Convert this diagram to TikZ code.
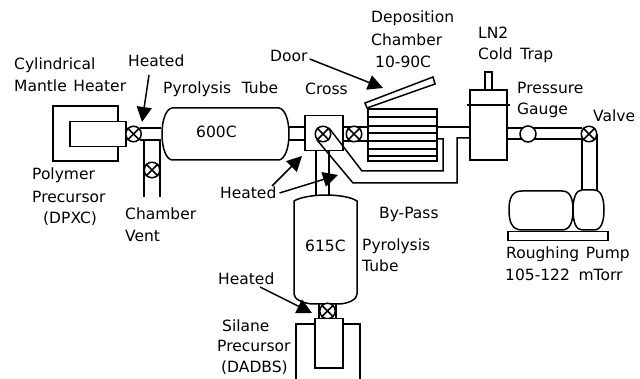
\documentclass[tikz,border=0pt]{standalone}
\usepackage{fontspec}
\setmainfont[WordSpace=1.35]{DejaVu Sans}
\usetikzlibrary{arrows.meta}
\tikzset{
  part/.style={line width=1.5pt,fill=white},
  pipe/.style={line width=1.5pt},
  lbl/.style={anchor=west,inner sep=0pt,font=\fontsize{15.5}{18}\selectfont},
  pointer/.style={line width=1.5pt,-{Triangle[length=15pt,width=15pt]}},
  valvering/.style={circle,draw,line width=1.5pt,fill=white,minimum size=15.5pt,inner sep=0pt},
}
\newcommand{\valve}[3]{%
  \node[valvering] (#1) at (#2,#3) {};
  \draw[line width=1.5pt] (#1.45) -- (#1.225) (#1.135) -- (#1.315);
}
\begin{document}
\begin{tikzpicture}[x=1pt,y=-1pt]
\useasboundingbox (0,0) rectangle (640,379);
% precursor heater
\draw[part] (118,121) -- (118,106) -- (53,106) -- (53,161) -- (118,161) -- (118,146);
\node[draw,part,minimum width=56pt,minimum height=25pt,inner sep=0pt,anchor=north west] (inner) at (69,121) {};
% pipes left
\coordinate (pa) at (140,128); \coordinate (pb) at (161,128);
\coordinate (pc) at (140,140); \coordinate (pd) at (161,140);
\draw[pipe] (pa) -- (pb) (pc) -- (pd);
\coordinate (va) at (144,141); \coordinate (vb) at (144,197);
\coordinate (vc) at (160,141); \coordinate (vd) at (160,197);
\draw[pipe] (va) -- (vb) (vc) -- (vd);
\valve{v1}{133.5}{134}
\valve{v2}{152}{170}
% horizontal pyrolysis tube
\draw[part] (172,108) -- (279,108) .. controls (285,109) and (289,120) .. (289,134)
  .. controls (289,148) and (285,159) .. (279,160) -- (172,160)
  .. controls (166,159) and (162,148) .. (162,134)
  .. controls (162,120) and (166,109) .. (172,108) -- cycle;
\draw[pipe] (289,127) -- (304,127) (289,140) -- (304,140);
% cross
\node[draw,part,minimum width=38pt,minimum height=35pt,inner sep=0pt,anchor=north west,fill=none] (cross) at (304,115) {};
\draw[pipe] (316,150) -- (316,195) (329,150) -- (329,195);
% bypass lines
\draw[pipe] (437,139) -- (443,139) -- (443,171) -- (362,171) -- (329,128);
\draw[pipe] (470,138) -- (457,138) -- (457,183) -- (353,183) -- (317,140);
\valve{v3}{323}{134}
% chamber pipes and valve
\draw[pipe] (342,127) -- (368,127) (342,141) -- (368,141);
\valve{v4}{354}{134}
% chamber
\draw[part] (368,109) rectangle (437,161);
\foreach \yy in {117,126,133,141,149,156}
  \draw[pipe] (368,\yy) -- (437,\yy);
\draw[part] (365,103) -- (433,77) -- (435,84) -- (367,108) -- cycle;
\draw[pipe] (437,127) -- (470,127);
% cold trap
\draw[part] (485,90) -- (485,72) -- (492,72) -- (492,90);
\draw[part] (470,105) -- (470,90) -- (507,90) -- (507,105);
\draw[part] (470,105) rectangle (507,160);
\draw[line width=2.6pt] (467,105) -- (510,105);
% right pipes
\draw[pipe] (507,128) -- (582,128) (507,139) -- (582,139);
\node[circle,draw,line width=1.5pt,fill=white,minimum size=16pt,inner sep=0pt] (gauge) at (528,134) {};
\draw[pipe] (582,139) -- (582,191) (597,134) -- (597,191);
\valve{v5}{589}{134}
% pump
\draw[part] (522,191) -- (562,191) .. controls (570,191) and (573,198) .. (573,210)
  .. controls (573,222) and (570,230) .. (562,230) -- (522,230)
  .. controls (512,230) and (509,222) .. (509,210)
  .. controls (509,198) and (512,191) .. (522,191) -- cycle;
\draw[part] (582,190) -- (594,190) .. controls (601,190) and (604,198) .. (604,210)
  .. controls (604,222) and (601,230) .. (594,230) -- (582,230)
  .. controls (576,230) and (573,222) .. (573,210)
  .. controls (573,198) and (576,190) .. (582,190) -- cycle;
\node[draw,part,minimum width=100pt,minimum height=9pt,inner sep=0pt,anchor=north west] (base) at (507,231) {};
% vertical pyrolysis tube
\draw[part] (294,201) .. controls (300,197) and (315,195) .. (326,195)
  .. controls (338,195) and (351,197) .. (357,201) -- (357,294)
  .. controls (357,299) and (350,303) .. (340,304) -- (312,304)
  .. controls (302,303) and (294,299) .. (294,294) -- cycle;
% silane precursor
\draw[pipe] (319,304) -- (319,318) (336,304) -- (336,318);
\valve{v6}{327.5}{311}
\draw[part] (296,379) -- (296,324) -- (314,324) (342,324) -- (360,324) -- (360,379);
\node[draw,part,minimum width=28pt,minimum height=49pt,inner sep=0pt,anchor=north west] (silane) at (314,318) {};
% labels
\node[lbl] (t1) at (14,65) {Cylindrical};
\node[lbl] (t2) at (14,86) {Mantle Heater};
\node[lbl] (t3) at (128,61) {Heated};
\node[lbl] (t4) at (163,89) {Pyrolysis\hspace{4pt} Tube};
\node[lbl] (t5) at (305,89) {Cross};
\node[lbl] (t6) at (270,56) {Door};
\node[lbl] (t7) at (371,18) {Deposition};
\node[lbl] (t8) at (371,40) {Chamber};
\node[lbl] (t9) at (375,62) {10-90C};
\node[lbl] (t10) at (478,33) {LN2};
\node[lbl] (t11) at (478,55) {Cold\hspace{1pt} Trap};
\node[lbl] (t12) at (517,88) {Pressure};
\node[lbl] (t13) at (517,110) {Gauge};
\node[lbl] (t14) at (593,116) {Valve};
\node[lbl] (t15) at (196,132) {600C};
\node[lbl] (t16) at (32,175) {Polymer};
\node[lbl] (t17) at (32,197) {Precursor};
\node[lbl] (t18) at (43,219) {(DPXC)};
\node[lbl] (t19) at (125,214) {Chamber};
\node[lbl] (t20) at (125,236) {Vent};
\node[lbl] (t21) at (220,193) {Heated};
\node[lbl] (t22) at (379,214) {By-Pass};
\node[lbl] (t23) at (305,246) {615C};
\node[lbl] (t24) at (362,246) {Pyrolysis};
\node[lbl] (t25) at (362,266) {Tube};
\node[lbl] (t26) at (218,279) {Heated};
\node[lbl] (t27) at (222,326) {Silane};
\node[lbl] (t28) at (217,346) {Precursor};
\node[lbl] (t29) at (221,368) {(DADBS)};
\node[lbl] (t30) at (506,254) {Roughing Pump};
\node[lbl] (t31) at (505,275) {105-122\hspace{2pt} mTorr};
% pointers
\coordinate (e1) at (142,122);
\coordinate (e2) at (302,156);
\coordinate (e3) at (338,175);
\coordinate (e4) at (383,88);
\coordinate (e5) at (312,313);
\draw[pointer] (149,75) -- (e1);
\draw[pointer] (272,186) -- (e2);
\draw[pointer] (t21.east) ++(3,0) -- (e3);
\draw[pointer] (t6.east) ++(2,3) -- (e4);
\draw[pointer] (260,287) -- (e5);
\end{tikzpicture}
\end{document}
